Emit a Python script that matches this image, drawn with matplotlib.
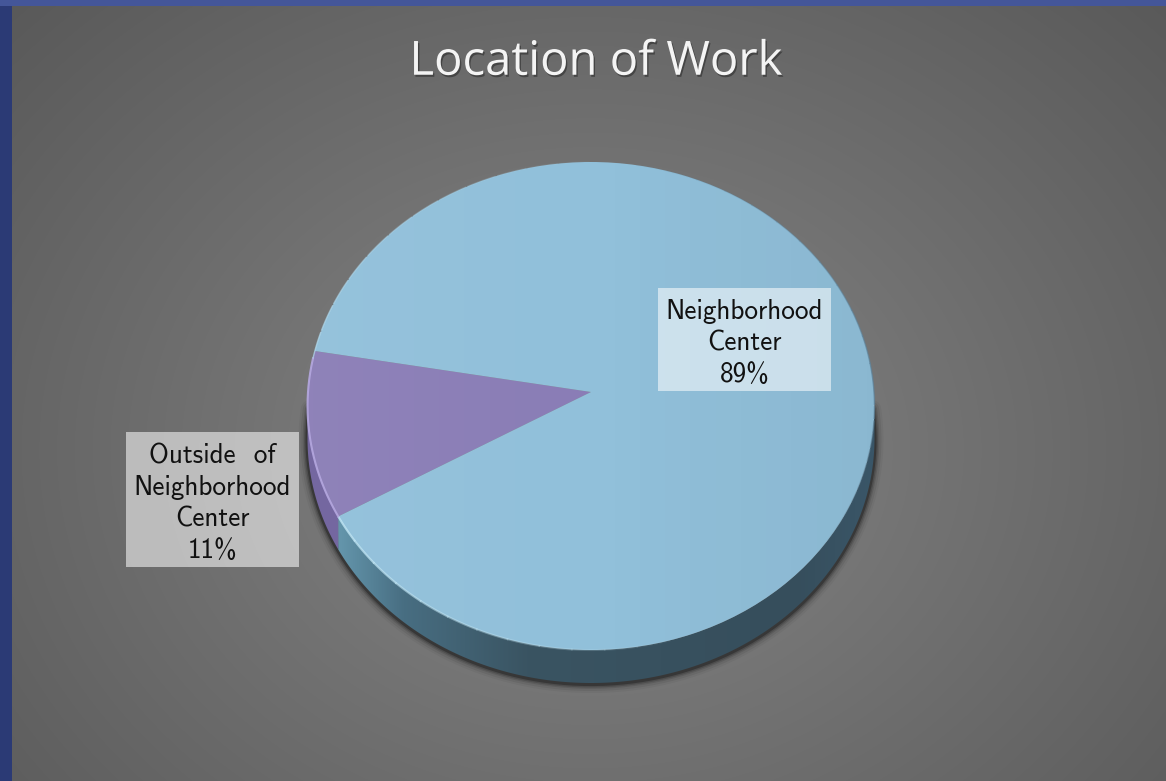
import numpy as np
import matplotlib
matplotlib.use('Agg')
import matplotlib.pyplot as plt
import matplotlib.patheffects as pe
from matplotlib.patches import Polygon, Rectangle, Ellipse
from matplotlib.transforms import Transform

title = 'Location of Work'
categories = ['Outside  of\nNeighborhood\nCenter', 'Neighborhood\nCenter']
shares = [11, 89]
slice_colors = ['#8a7db6', '#91c0da']
start_angle = 170.2


class PieProjection(Transform):
    # tilted disc: unit circle to figure pixels, with a bit of perspective
    input_dims = 2
    output_dims = 2
    is_separable = False
    has_inverse = False

    def transform_non_affine(self, values):
        values = np.asarray(values, dtype=float)
        w = 1 + 0.0574 * values[:, 1]
        return np.column_stack((591 + 283 * values[:, 0] / w,
                                (392 - 220.7 * values[:, 1]) / w))


def rim_points(t1, t2, n=200):
    t = np.radians(np.linspace(t1, t2, n))
    return proj.transform_non_affine(np.column_stack((np.cos(t), np.sin(t))))


def fade_edge(t1, t2, color, lw, alpha, steps=12):
    # fades out going from t1 to t2
    cuts = np.linspace(t1, t2, steps + 1)
    for i in range(steps):
        edge = rim_points(cuts[i], cuts[i + 1] + 0.3, 30)
        ax.plot(edge[:, 0], edge[:, 1], color=color, lw=lw, alpha=alpha * (1 - i / steps),
                zorder=6, solid_capstyle='butt')


fig = plt.figure(figsize=(11.66, 7.81), dpi=100)
ax = fig.add_axes([0, 0, 1, 1])
proj = PieProjection()

# slide background
yy, xx = np.mgrid[0:781, 0:1166]
r = np.sqrt(((xx - 590) / 640.0) ** 2 + ((yy - 450) / 520.0) ** 2)
grey = np.clip(134 - 36 * r, 88, 134) / 255.0
bg = np.dstack((grey, grey, grey))
bg[:, :12, 0] = 0.17
bg[:, :12, 1] = 0.23
bg[:, :12, 2] = 0.46
bg[:6, :, 0] = 0.27
bg[:6, :, 1] = 0.34
bg[:6, :, 2] = 0.60
ax.imshow(bg, extent=(0, 1166, 781, 0), aspect='auto', zorder=0)

wedges, _ = ax.pie(shares, colors=slice_colors, startangle=start_angle, radius=1,
                   counterclock=True)
for w in wedges:
    w.set_transform(proj + ax.transData)
    w.set_zorder(4)
    w.set_linewidth(0)

split = wedges[0].theta2

# soft shadow under the rim
low = rim_points(176, 364)
for lw, a in [(13, 0.04), (10, 0.07), (7, 0.11), (5, 0.16), (3, 0.28)]:
    ax.plot(low[:, 0], low[:, 1] + 34, color='black', lw=lw, alpha=a, zorder=1,
            solid_capstyle='round')

# rim, blue part with a left to right shade
top = rim_points(split, 356.7)
blue_rim = Polygon(np.vstack((top, (top + [0, 33])[::-1])), closed=True,
                   facecolor='none', edgecolor='none', zorder=3)
ax.add_patch(blue_rim)
shade = np.zeros((1, 256, 3))
stops = np.array([[100, 150, 172], [72, 110, 130], [58, 84, 98], [54, 78, 92], [58, 86, 104]]) / 255.0
for i in range(3):
    shade[0, :, i] = np.interp(np.linspace(0, 1, 256), [0, 0.12, 0.35, 0.85, 1], stops[:, i])
im = ax.imshow(shade, extent=(338, 876, 690, 400), aspect='auto', zorder=3)
im.set_clip_path(blue_rim)

top = rim_points(183.3, split)
ax.add_patch(Polygon(np.vstack((top, (top + [0, 33])[::-1])), closed=True,
                     facecolor='#7467a0', edgecolor='none', zorder=3))

# faint light on the disc
disc = Ellipse((0, 0), 2, 2, transform=proj + ax.transData, facecolor='none', edgecolor='none')
ax.add_patch(disc)
light = np.zeros((1, 256, 4))
light[0, :128, :3] = 1
light[0, :, 3] = np.abs(np.linspace(-0.045, 0.045, 256))
im2 = ax.imshow(light, extent=(300, 880, 660, 155), aspect='auto', zorder=5)
im2.set_clip_path(disc)

# edge highlights
fade_edge(split, 285, '#c0e6f5', 1.5, 0.8)
edge = rim_points(172, split)
ax.plot(edge[:, 0], edge[:, 1], color='#b5a8e0', lw=1.5, alpha=0.9, zorder=6)
fade_edge(172, 90, '#b4dcef', 1.0, 0.7)
fade_edge(0, 80, '#5d8198', 1.0, 0.7)
fade_edge(0, -40, '#5d8198', 1.0, 0.7)

# data labels
label_font = ['cmss10', 'DejaVu Sans']
boxes = [(126, 432, 173, 135), (658, 288, 173, 103)]
for cat, val, (bx, by, bw, bh) in zip(categories, shares, boxes):
    ax.add_patch(Rectangle((bx, by), bw, bh, facecolor='white', alpha=0.55,
                           edgecolor='none', zorder=7))
    ax.text(bx + bw / 2, by + bh / 2 + 3.5, '%s\n%d%%' % (cat, val), ha='center', va='center',
            fontsize=19.6, family=label_font, color='#111111', linespacing=1.32, zorder=8)

ax.text(596, 62, title, ha='center', va='center', fontsize=34, family='Open Sans', color='#f4f4f4',
        zorder=8, path_effects=[pe.withSimplePatchShadow(offset=(1, -1.5), shadow_rgbFace='black', alpha=0.35)])

ax.set_aspect('auto')
ax.set_xlim(0, 1166)
ax.set_ylim(781, 0)
ax.axis('off')

fig.savefig('out.png', dpi=100)
